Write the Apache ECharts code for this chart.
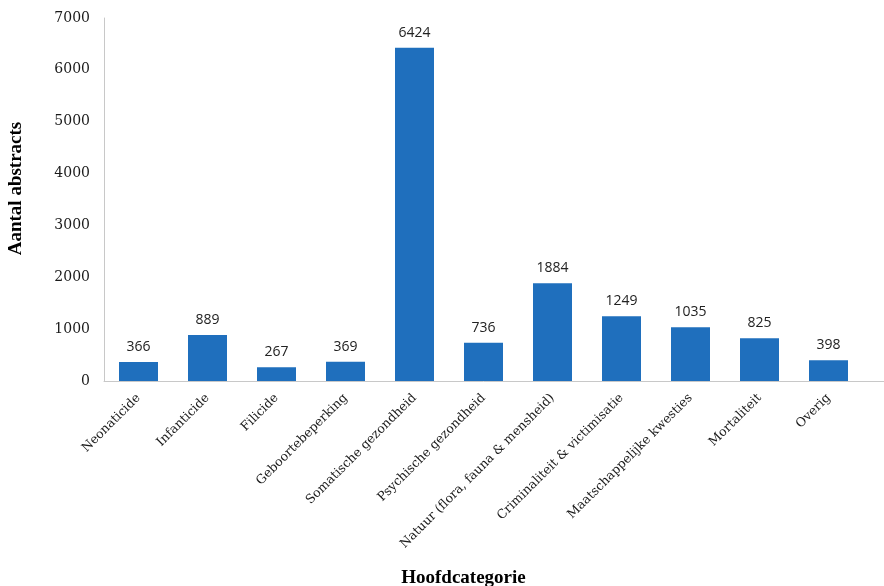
<!DOCTYPE html>
<html>
<head>
<meta charset="utf-8">
<script src="https://cdn.jsdelivr.net/npm/echarts@6/dist/echarts.min.js"></script>
<style>
  html, body { margin: 0; padding: 0; background: #fff; }
  #chart { width: 884px; height: 586px; }
</style>
</head>
<body>
<div id="chart"></div>
<script>
const categories = [
  'Neonaticide', 'Infanticide', 'Filicide', 'Geboortebeperking',
  'Somatische gezondheid', 'Psychische gezondheid',
  'Natuur (flora, fauna & mensheid)', 'Criminaliteit & victimisatie',
  'Maatschappelijke kwesties', 'Mortaliteit', 'Overig'
]
const counts = [366, 889, 267, 369, 6424, 736, 1884, 1249, 1035, 825, 398]
const yTicks = { min: 0, max: 7000, interval: 1000 }

const chart = echarts.init(document.getElementById('chart'))
chart.setOption({
  animation: false,
  grid: { left: 104, right: 21, top: 18, bottom: 205, containLabel: false, outerBoundsMode: 'none' },
  // axis line in the original runs on to the edge of the picture
  graphic: [{
    type: 'line', shape: { x1: 863, y1: 381.5, x2: 884, y2: 381.5 },
    style: { stroke: '#c8c8c8', lineWidth: 1 }
  }],
  xAxis: {
    type: 'category',
    data: categories,
    name: 'Hoofdcategorie',
    nameLocation: 'middle',
    nameGap: 188,
    nameTextStyle: {
      fontFamily: 'Liberation Serif', fontWeight: 'bold', fontSize: 19, color: '#000',
      padding: [0, 40, 0, 0]
    },
    axisLine: { lineStyle: { color: '#c8c8c8', width: 1 } },
    axisTick: { show: false },
    axisLabel: {
      rotate: 45, interval: 0, margin: 15,
      fontFamily: '"DejaVu Serif", serif', fontSize: 12.5, color: '#1a1a1a'
    }
  },
  yAxis: {
    type: 'value',
    min: yTicks.min, max: yTicks.max, interval: yTicks.interval,
    name: 'Aantal abstracts',
    nameLocation: 'middle',
    nameGap: 78,
    nameRotate: 90,
    nameTextStyle: {
      fontFamily: 'Liberation Serif', fontWeight: 'bold', fontSize: 19, color: '#000',
      padding: [0, 0, 0, 22]
    },
    axisLine: { show: true, lineStyle: { color: '#c8c8c8', width: 1 } },
    axisTick: { show: false },
    splitLine: { show: false },
    axisLabel: {
      margin: 14, fontFamily: '"DejaVu Serif", serif', fontSize: 14, color: '#1a1a1a',
      formatter: v => String(v)
    }
  },
  series: [{
    type: 'bar',
    data: counts,
    barWidth: 39,
    itemStyle: { color: '#1f6fbd' },
    label: {
      show: true, position: 'top', distance: 8,
      fontFamily: 'Open Sans', fontSize: 14, color: '#222'
    }
  }]
})
</script>
</body>
</html>
